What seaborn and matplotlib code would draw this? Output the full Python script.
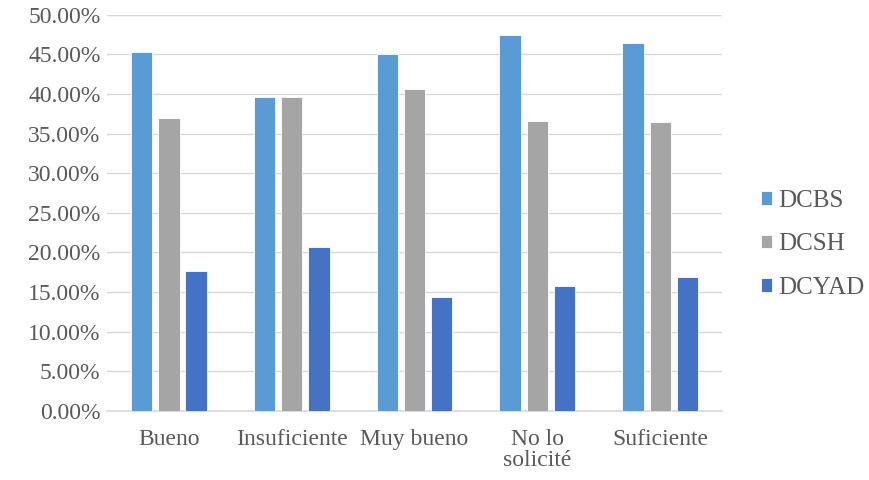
import pandas as pd
import matplotlib.pyplot as plt
import seaborn as sns
from matplotlib.ticker import FuncFormatter

# --- data ---
categories = ['Bueno', 'Insuficiente', 'Muy bueno', 'No lo\nsolicité', 'Suficiente']
series = ['DCBS', 'DCSH', 'DCYAD']
dcbs = [45.3, 39.6, 45.0, 47.5, 46.5]
dcsh = [37.0, 39.6, 40.7, 36.6, 36.5]
dcyad = [17.7, 20.7, 14.3, 15.8, 16.9]
colors = ['#5B9BD5', '#A5A5A5', '#4472C4']

df = pd.DataFrame({
    'Categoria': categories * 3,
    'Serie': [s for s in series for _ in categories],
    'Valor': dcbs + dcsh + dcyad,
})

sns.set_theme(style="white")
plt.rcParams['font.family'] = ['Liberation Serif', 'DejaVu Serif']

fig, ax = plt.subplots(figsize=(8.69, 4.8), dpi=100)
fig.subplots_adjust(left=0.1235, right=0.8305, top=0.969, bottom=0.1444)

sns.barplot(data=df, x='Categoria', y='Valor', hue='Serie', order=categories,
            hue_order=series, palette=colors, width=0.664, gap=0.21,
            saturation=1, ax=ax, zorder=3, edgecolor='white', linewidth=0.6)

ax.set_ylim(0, 50)
ax.set_yticks(range(0, 51, 5))
ax.yaxis.set_major_formatter(FuncFormatter(lambda v, p: f'{v:.2f}%'))
ax.grid(axis='y', color='#D9D9D9', linewidth=1, zorder=0)
ax.set_xlabel('')
ax.set_ylabel('')
ax.tick_params(axis='both', length=0, labelsize=17, colors='#595959')
ax.tick_params(axis='y', pad=5)
ax.tick_params(axis='x', pad=13)
for lbl in ax.get_xticklabels():
    lbl.set_linespacing(1.0)
for side in ['top', 'right', 'left']:
    ax.spines[side].set_visible(False)
ax.spines['bottom'].set_color('#D9D9D9')

ax.legend(loc='center left', bbox_to_anchor=(1.027, 0.42), frameon=False,
          fontsize=18, handlelength=0.45, handleheight=0.45, handletextpad=0.25,
          labelspacing=0.86, labelcolor='#595959')

plt.savefig('out.png', dpi=100)
